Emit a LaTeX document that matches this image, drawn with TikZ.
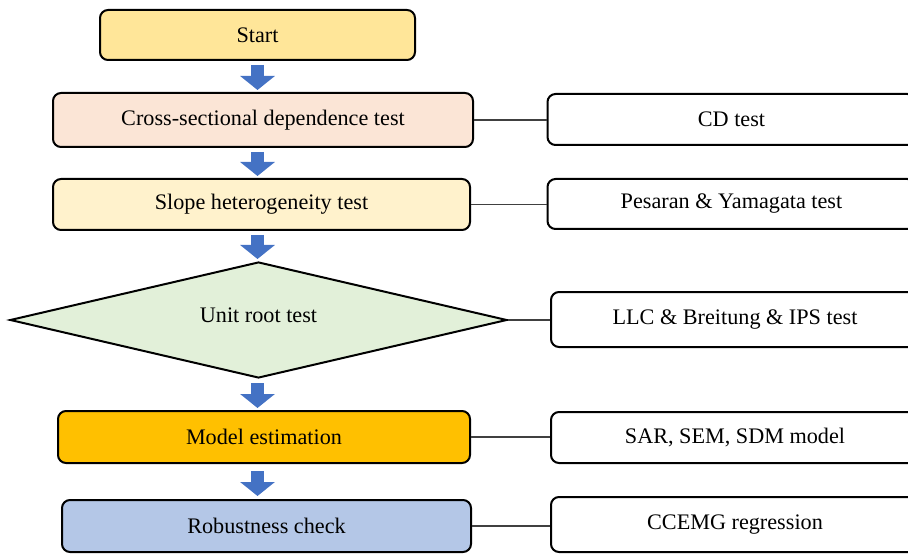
\documentclass[tikz,border=0pt]{standalone}
\usepackage{fontspec}
\setmainfont{Liberation Serif}
\usetikzlibrary{positioning, arrows.meta, shapes.geometric}
\newcommand{\blockarrow}{-{Triangle[length=7pt 0 0,width=17pt 0 0]}}
\definecolor{startfill}{HTML}{FFE699}
\definecolor{cdfill}{HTML}{FBE5D6}
\definecolor{slopefill}{HTML}{FFF2CC}
\definecolor{rootfill}{HTML}{E2F0D9}
\definecolor{modelfill}{HTML}{FFC000}
\definecolor{robustfill}{HTML}{B4C7E7}
\definecolor{arrowblue}{HTML}{4472C4}

\begin{document}
\begin{tikzpicture}[x=0.5pt, y=-0.5pt,
    font=\fontsize{11.1}{13.3}\selectfont,
    stage/.style={draw, line width=1pt, rounded corners=4pt, inner sep=0pt},
    method/.style={stage, fill=white, minimum width=184pt},
    flow/.style={\blockarrow, line width=6.5pt, arrowblue, shorten <=2pt, shorten >=1pt},
    link/.style={black!75, line width=0.6pt}]
    \useasboundingbox (0,0) rectangle (908,555);

    % main steps
    \node[stage, fill=startfill, minimum width=157.5pt, minimum height=25pt] (start) at (257.5,35) {Start};
    \node[stage, fill=cdfill, minimum width=210pt, minimum height=27pt] (cross) at (263,120) {Cross-sectional dependence test};
    \node[stage, fill=slopefill, minimum width=208.5pt, minimum height=25.5pt] (slope) at (261.5,204.5) {Slope heterogeneity test};
    \node[diamond, draw, line width=1pt, fill=rootfill, inner sep=0pt, aspect=4.28,
          minimum width=248.5pt, minimum height=58pt] (root) at (258.5,320) {\raisebox{4.5pt}{Unit root test}};
    \node[stage, fill=modelfill, minimum width=206pt, minimum height=26pt] (model) at (264,437) {Model estimation};
    \node[stage, fill=robustfill, minimum width=204.5pt, minimum height=26pt] (robust) at (266.5,526) {Robustness check};

    % methods on the right
    \node[method, minimum height=25.5pt] (cd) at (731.5,119.5) {CD test};
    \node[method, minimum height=25pt] (py) at (731.5,204) {Pesaran \& Yamagata test};
    \node[method, minimum height=27.5pt] (llc) at (735,319.5) {LLC \& Breitung \& IPS test};
    \node[method, minimum height=25.5pt] (sar) at (735,437.5) {SAR, SEM, SDM model};
    \node[method, minimum height=27.5pt] (ccemg) at (735,524.5) {CCEMG regression};

    % block arrows
    \draw[flow] (start.south) -- (start.south |- cross.north);
    \draw[flow] (cross.south -| start) -- (slope.north -| start);
    \draw[flow] (slope.south -| start) -- (root.north -| start);
    \draw[flow] (root.south -| start) -- (model.north -| start);
    \draw[flow, shorten <=3.5pt, shorten >=1.5pt] (model.south -| start) -- (robust.north -| start);

    % links
    \draw[link] (cross.east) -- (cross.east -| cd.west);
    \draw[link] (slope.east) -- (slope.east -| py.west);
    \draw[link] (root.east) -- (root.east -| llc.west);
    \draw[link] (model.east) -- (model.east -| sar.west);
    \draw[link] (robust.east) -- (robust.east -| ccemg.west);
\end{tikzpicture}
\end{document}
